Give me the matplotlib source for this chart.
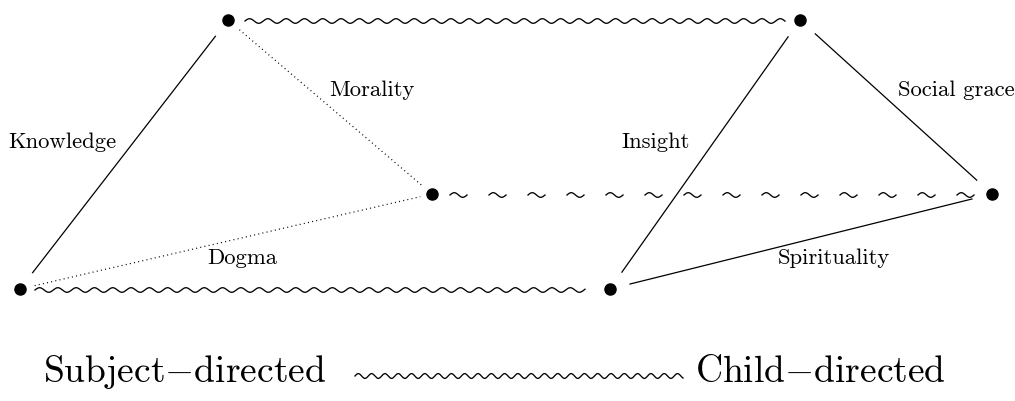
import numpy as np
import matplotlib
matplotlib.use("Agg")
import matplotlib.pyplot as plt

plt.rcParams['mathtext.fontset'] = 'cm'
FONT = ['cmr10', 'DejaVu Serif']

# Nodes (pixel coordinates of the diagram)
node_names = ["A", "B", "C", "D", "E", "F"]
node_x = [228, 800, 432, 992, 20, 610]
node_y = [20, 20, 194, 194, 289, 289]

# Edges
solid_edges = [("E", "A"), ("B", "F"), ("B", "D"), ("F", "D")]
dotted_edges = [("A", "C"), ("E", "C")]
wavy_edges = [("A", "B"), ("E", "F")]
tilde_edges = [("C", "D")]

edge_labels = ["Knowledge", "Morality", "Dogma", "Insight", "Social grace", "Spirituality"]
label_x = [62, 372, 242, 656, 956, 834]
label_y = [142, 90, 258, 142, 90, 258]

legend_left = r"Subject$-$directed"
legend_right = r"Child$-$directed"

pos = {n: (x, y) for n, x, y in zip(node_names, node_x, node_y)}

W, H = 1015, 401
fig = plt.figure(figsize=(W / 100, H / 100), dpi=100)
ax = fig.add_axes([0, 0, 1, 1])
ax.set_xlim(0, W)
ax.set_ylim(H, 0)
ax.axis('off')


def shorten(p, q, g1, g2):
    p = np.array(p, float); q = np.array(q, float)
    d = q - p
    L = np.hypot(*d)
    u = d / L
    return p + u * g1, q - u * g2


for a, b in solid_edges:
    p, q = shorten(pos[a], pos[b], 20, 20)
    ax.plot([p[0], q[0]], [p[1], q[1]], color='black', lw=0.9, solid_capstyle='butt')

for a, b in dotted_edges:
    p, q = shorten(pos[a], pos[b], 15, 12)
    ax.plot([p[0], q[0]], [p[1], q[1]], color='black', lw=0.9, linestyle=(0, (0.8, 2.6)))


def wave(x0, x1, y, wl, amp, lw):
    xs = np.linspace(x0, x1, int((x1 - x0) * 4))
    ys = y - amp * np.sin(2 * np.pi * (xs - x0) / wl)
    ax.plot(xs, ys, color='black', lw=lw)


(xa, ya), (xb, yb) = pos["A"], pos["B"]
wave(xa + 17, xb - 15, ya + 1, 18.3, 2.3, 0.95)
(xa, ya), (xb, yb) = pos["E"], pos["F"]
wave(xa + 15, xb - 25, ya + 1, 18.3, 2.3, 0.95)

for a, b in tilde_edges:
    (xa, ya), (xb, yb) = pos[a], pos[b]
    start = xa + 18
    period = 39
    while start + 17 <= xb - 14:
        wave(start, start + 17, ya + 1, 17, 2.3, 0.95)
        start += period

ax.plot(node_x, node_y, 'o', color='black', markersize=8, linestyle='none')

for t, x, y in zip(edge_labels, label_x, label_y):
    ax.text(x, y, t, ha='center', va='center', fontsize=16.3, family=FONT)

ax.text(185, 372, legend_left, ha='center', va='center', fontsize=27, family=FONT)
wave(355, 683, 376, 13.3, 2.4, 0.95)
ax.text(820, 372, legend_right, ha='center', va='center', fontsize=27, family=FONT)

fig.savefig("out.png", dpi=100)
